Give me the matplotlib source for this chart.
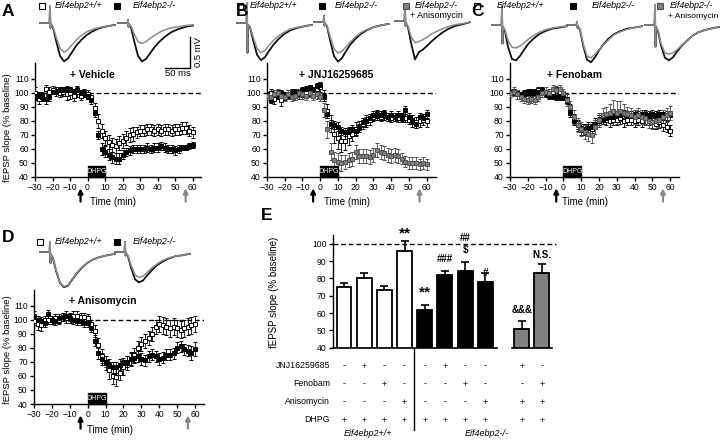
import matplotlib
matplotlib.use("Agg")
import matplotlib.pyplot as plt
from matplotlib.lines import Line2D
from matplotlib.patches import Rectangle
import matplotlib.transforms as mtransforms
from matplotlib import font_manager

plt.rcParams['font.family'] = ['Liberation Sans', 'DejaVu Sans']
plt.rcParams['axes.linewidth'] = 1.0
_names = {f.name for f in font_manager.fontManager.ttflist}
NARROW = 'Liberation Sans Narrow' if 'Liberation Sans Narrow' in _names else None
TICK_FS = 7 if NARROW else 6.2

# ---------------- data ----------------
TIME = [-30, -28, -26, -24, -22, -20, -18, -16, -14, -12, -10, -8, -6, -4, -2, 0,
        2, 4, 6, 8, 10, 12, 14, 16, 18, 20, 22, 24, 26, 28, 30, 32, 34, 36, 38, 40,
        42, 44, 46, 48, 50, 52, 54, 56, 58, 60]

# Panel A (+ Vehicle)
A_WT = [100, 96, 98, 103, 101, 102, 101, 100, 101, 99, 100, 98, 101, 98, 100, 99,
        97, 89, 80, 73, 68, 65, 63, 62, 64, 66, 68, 70, 71, 72, 73, 73, 74, 74, 73, 74,
        73, 74, 74, 73, 74, 74, 75, 75, 73, 72]
A_WT_ERR = [4, 4, 3, 3, 3, 3, 3, 3, 3, 4, 4, 4, 4, 3, 3, 3,
            3, 4, 5, 5, 5, 5, 5, 5, 5, 5, 5, 5, 5, 4, 4, 4, 4, 4, 4, 4,
            4, 4, 4, 4, 4, 4, 4, 4, 4, 4]
A_KO = [98, 98, 97, 96, 97, 101, 101, 102, 102, 103, 102, 101, 102, 100, 100, 98,
        95, 86, 70, 60, 58, 56, 54, 53, 53, 56, 58, 59, 60, 60, 60, 60, 61, 60, 61, 61,
        62, 61, 60, 60, 59, 60, 61, 61, 62, 63]
A_KO_ERR = [3, 3, 3, 4, 3, 2, 2, 2, 2, 2, 2, 2, 2, 2, 2, 2,
            3, 3, 3, 4, 4, 4, 4, 4, 4, 3, 3, 3, 3, 3, 3, 3, 3, 3, 3, 3,
            3, 3, 3, 3, 3, 3, 2, 2, 2, 2]

# Panel B (+ JNJ16259685)
B_WT = [98, 100, 96, 99, 95, 98, 99, 100, 98, 99, 100, 100, 101, 100, 103, 104,
        98, 87, 78, 71, 68, 66, 66, 69, 71, 74, 76, 78, 80, 81, 83, 84, 83, 84, 83, 82,
        83, 82, 83, 82, 81, 80, 79, 80, 81, 80]
B_WT_ERR = [3, 3, 4, 3, 4, 3, 3, 3, 3, 3, 3, 3, 3, 3, 3, 3,
            4, 5, 6, 7, 8, 8, 7, 6, 5, 5, 4, 4, 4, 4, 3, 3, 3, 3, 3, 3,
            3, 3, 3, 3, 3, 4, 4, 4, 4, 4]
B_KO = [99, 95, 99, 98, 100, 99, 98, 100, 101, 100, 102, 103, 104, 102, 105, 106,
        97, 85, 78, 77, 76, 73, 72, 73, 74, 73, 75, 79, 80, 82, 84, 85, 84, 85, 83, 84,
        83, 84, 82, 88, 83, 81, 78, 83, 82, 85]
B_KO_ERR = [2, 2, 2, 2, 2, 2, 2, 2, 2, 2, 2, 2, 2, 2, 2, 2,
            3, 3, 3, 3, 3, 3, 3, 3, 3, 3, 3, 3, 3, 3, 3, 3, 3, 3, 3, 3,
            3, 3, 3, 3, 3, 3, 3, 3, 3, 3]
B_AN = [98, 97, 99, 100, 98, 97, 99, 97, 98, 100, 99, 98, 100, 98, 99, 97,
        88, 74, 58, 52, 51, 50, 51, 52, 53, 58, 55, 55, 55, 54, 56, 59, 58, 57, 56, 55,
        56, 55, 53, 51, 50, 50, 50, 49, 50, 49]
B_AN_ERR = [3, 3, 3, 3, 3, 3, 3, 3, 3, 3, 3, 3, 3, 3, 3, 3,
            5, 6, 6, 6, 6, 6, 5, 5, 5, 5, 5, 5, 5, 5, 5, 5, 5, 5, 5, 5,
            5, 5, 4, 4, 4, 4, 4, 4, 4, 4]

# Panel C (+ Fenobam)
C_WT = [101, 100, 100, 98, 99, 100, 100, 101, 102, 101, 100, 99, 101, 102, 101, 99,
        96, 89, 82, 77, 74, 74, 75, 74, 78, 80, 82, 81, 80, 81, 81, 82, 80, 81, 81, 80,
        81, 80, 82, 81, 79, 78, 79, 77, 76, 73]
C_WT_ERR = [2, 2, 2, 2, 2, 2, 2, 2, 2, 2, 2, 2, 2, 2, 2, 2,
            3, 3, 3, 4, 4, 4, 4, 4, 4, 4, 4, 4, 4, 4, 4, 4, 4, 4, 4, 4,
            4, 4, 4, 4, 4, 4, 4, 4, 4, 4]
C_KO = [101, 101, 100, 99, 100, 101, 101, 100, 101, 102, 99, 98, 98, 97, 97, 97,
        94, 86, 80, 77, 75, 74, 75, 76, 78, 80, 81, 82, 83, 83, 84, 84, 85, 84, 84, 85,
        84, 85, 85, 84, 85, 84, 85, 85, 84, 84]
C_KO_ERR = [2, 2, 2, 2, 2, 2, 2, 2, 2, 2, 2, 2, 2, 2, 2, 2,
            2, 3, 3, 3, 3, 3, 3, 3, 3, 3, 3, 3, 3, 3, 3, 3, 3, 3, 3, 3,
            3, 3, 3, 3, 3, 3, 3, 3, 3, 3]
C_AN = [100, 101, 99, 97, 96, 95, 96, 95, 97, 100, 101, 100, 103, 102, 103, 100,
        95, 90, 83, 77, 74, 72, 71, 70, 76, 81, 84, 85, 86, 87, 86, 87, 86, 85, 84, 83,
        84, 83, 82, 80, 79, 80, 81, 83, 84, 86]
C_AN_ERR = [3, 3, 3, 3, 3, 3, 3, 3, 3, 3, 3, 3, 3, 3, 3, 3,
            4, 4, 5, 5, 5, 5, 5, 6, 5, 5, 5, 5, 6, 8, 8, 7, 6, 5, 5, 5,
            5, 5, 5, 5, 5, 5, 5, 5, 5, 5]

# Panel D (+ Anisomycin)
D_WT = [99, 97, 96, 100, 100, 100, 101, 100, 102, 101, 102, 103, 103, 102, 102, 101,
        97, 92, 82, 74, 69, 64, 60, 59, 62, 66, 69, 72, 75, 80, 83, 85, 87, 90, 95, 97,
        96, 95, 94, 95, 94, 93, 94, 95, 96, 97]
D_WT_ERR = [3, 4, 4, 3, 3, 3, 3, 3, 3, 3, 3, 3, 3, 3, 3, 3,
            3, 4, 5, 5, 5, 6, 6, 6, 5, 5, 5, 5, 5, 5, 5, 5, 5, 5, 5, 6,
            6, 6, 6, 6, 6, 6, 6, 6, 6, 6]
D_KO = [103, 100, 99, 98, 104, 100, 99, 101, 102, 103, 101, 100, 99, 99, 98, 98,
        94, 85, 76, 72, 70, 68, 66, 66, 68, 69, 70, 72, 73, 74, 72, 71, 74, 75, 74, 72,
        73, 75, 75, 76, 80, 81, 79, 78, 76, 79]
D_KO_ERR = [3, 3, 3, 3, 3, 3, 3, 3, 3, 3, 3, 3, 3, 3, 3, 3,
            3, 4, 4, 4, 4, 4, 4, 4, 4, 4, 4, 4, 4, 4, 4, 4, 4, 4, 4, 4,
            4, 4, 4, 4, 4, 4, 4, 4, 5, 5]

# Panel E (bar summary)
E_GROUPS = ['WT', 'WT', 'WT', 'WT', 'KO', 'KO', 'KO', 'KO', 'KOAN', 'KOAN']
E_VALUES = [75, 80, 73.5, 95.5, 62, 82, 84, 78, 51, 83]
E_ERR = [2.5, 3, 2, 6, 2.5, 2.5, 5.5, 5, 4.5, 5]
E_JNJ = ['-', '+', '-', '-', '-', '+', '-', '-', '+', '-']
E_FEN = ['-', '-', '+', '-', '-', '-', '+', '-', '-', '+']
E_ANI = ['-', '-', '-', '+', '-', '-', '-', '+', '+', '+']
E_DHPG = ['+', '+', '+', '+', '+', '+', '+', '+', '+', '+']
E_ROWS = ['JNJ16259685', 'Fenobam', 'Anisomycin', 'DHPG']
E_MARKS = [(3, '**', 105.6), (4, '**', 71.6), (5, '###', 91.2), (6, '##', 103.3),
           (6, '$', 96.4), (7, '#', 83.3), (8, '&&&', 61.7), (9, 'N.S.', 93.5)]

# Example fEPSP traces (ms, mV)
TRACE_MS = [0, 19, 20, 21, 22, 26, 32, 40, 48, 56, 64, 73, 83, 94, 106, 120, 136, 150]
TR_A1_K = [0, 0, 0.27, -0.08, -0.02, -0.07, -0.28, -0.53, -0.62, -0.57, -0.47, -0.36, -0.27, -0.19, -0.13, -0.08, -0.05, -0.03]
TR_A1_G = [0, 0, 0.27, -0.08, -0.02, -0.06, -0.22, -0.41, -0.47, -0.43, -0.35, -0.27, -0.20, -0.14, -0.10, -0.07, -0.05, -0.03]
TR_A2_K = [0, 0, 0.05, -0.06, -0.02, -0.07, -0.28, -0.53, -0.62, -0.58, -0.49, -0.39, -0.30, -0.22, -0.15, -0.10, -0.06, -0.04]
TR_A2_G = [0, 0, 0.05, -0.06, -0.02, -0.05, -0.17, -0.30, -0.33, -0.30, -0.25, -0.20, -0.15, -0.11, -0.08, -0.06, -0.04, -0.03]
TR_B1_K = [0, 0, 0.32, -0.48, -0.03, -0.07, -0.27, -0.51, -0.60, -0.55, -0.45, -0.35, -0.26, -0.18, -0.12, -0.08, -0.05, -0.03]
TR_B1_G = [0, 0, 0.32, -0.48, -0.03, -0.06, -0.22, -0.41, -0.48, -0.44, -0.36, -0.28, -0.21, -0.15, -0.10, -0.07, -0.05, -0.03]
TR_B2_K = [0, 0, 0.10, -0.06, -0.02, -0.07, -0.29, -0.55, -0.64, -0.58, -0.47, -0.36, -0.27, -0.19, -0.13, -0.08, -0.05, -0.03]
TR_B2_G = [0, 0, 0.10, -0.06, -0.02, -0.06, -0.23, -0.43, -0.50, -0.47, -0.40, -0.32, -0.24, -0.17, -0.12, -0.08, -0.05, -0.03]
TR_B3_K = [0, 0, 0.25, -0.08, -0.03, -0.10, -0.35, -0.62, -0.50, -0.46, -0.40, -0.33, -0.26, -0.19, -0.13, -0.08, -0.05, -0.02]
TR_B3_G = [0, 0, 0.25, -0.08, -0.03, -0.08, -0.25, -0.35, -0.33, -0.30, -0.26, -0.21, -0.17, -0.13, -0.09, -0.06, -0.04, -0.02]
TR_C1_K = [0, 0, 0.30, -0.30, -0.03, -0.10, -0.35, -0.55, -0.57, -0.50, -0.40, -0.30, -0.22, -0.15, -0.10, -0.06, -0.04, -0.02]
TR_C1_G = [0, 0, 0.30, -0.30, -0.03, -0.08, -0.25, -0.36, -0.37, -0.34, -0.29, -0.23, -0.17, -0.12, -0.08, -0.05, -0.03, -0.02]
TR_C2_K = [0, 0, 0.05, -0.05, -0.02, -0.08, -0.32, -0.56, -0.60, -0.52, -0.41, -0.31, -0.22, -0.15, -0.10, -0.06, -0.04, -0.02]
TR_C2_G = [0, 0, 0.05, -0.05, -0.02, -0.07, -0.29, -0.50, -0.53, -0.47, -0.40, -0.32, -0.24, -0.16, -0.11, -0.07, -0.04, -0.02]
TR_C3_K = [0, 0, 0.32, -0.35, -0.03, -0.10, -0.33, -0.53, -0.57, -0.52, -0.43, -0.34, -0.26, -0.18, -0.12, -0.08, -0.05, -0.03]
TR_C3_G = [0, 0, 0.32, -0.35, -0.03, -0.09, -0.30, -0.45, -0.47, -0.45, -0.40, -0.33, -0.26, -0.18, -0.12, -0.08, -0.05, -0.03]
TR_D1_K = [0, 0, 0.16, -0.18, -0.04, -0.10, -0.30, -0.50, -0.57, -0.54, -0.45, -0.35, -0.26, -0.18, -0.12, -0.08, -0.05, -0.03]
TR_D1_G = [0, 0, 0.16, -0.18, -0.04, -0.10, -0.29, -0.49, -0.56, -0.53, -0.44, -0.34, -0.25, -0.18, -0.12, -0.08, -0.05, -0.03]
TR_D2_K = [0, 0, 0.16, -0.06, -0.02, -0.07, -0.25, -0.44, -0.49, -0.46, -0.38, -0.30, -0.22, -0.16, -0.11, -0.07, -0.05, -0.03]
TR_D2_G = [0, 0, 0.16, -0.06, -0.02, -0.06, -0.21, -0.37, -0.41, -0.39, -0.33, -0.26, -0.20, -0.14, -0.10, -0.07, -0.05, -0.03]

# ---------------- layout helpers ----------------
W, H = 720, 441
fig = plt.figure(figsize=(W / 100, H / 100), dpi=100)
GRAY = '#808080'
GRAY_E = '#505050'
FS = 7


def rect(l, t, r, b):
    return [l / W, 1 - b / H, (r - l) / W, (b - t) / H]


def fx(x):
    return x / W


def fy(y):
    return 1 - y / H


def narrow_ticks(ax):
    ax.tick_params(direction='out', length=3, width=1, labelsize=TICK_FS, pad=1.5)
    if NARROW:
        for lab in ax.get_xticklabels() + ax.get_yticklabels():
            lab.set_family(NARROW)


def style_time_axes(ax, ytop):
    ax.set_xlim(-30, 65)
    ax.set_ylim(40, ytop)
    for s in ('top', 'right'):
        ax.spines[s].set_visible(False)
    ax.set_xticks([-30, -20, -10, 0, 10, 20, 30, 40, 50, 60])
    ax.set_yticks([40, 50, 60, 70, 80, 90, 100, 110])
    narrow_ticks(ax)
    ax.axhline(100, color='black', lw=1, ls=(0, (3.5, 2)), zorder=1)
    ax.add_patch(Rectangle((0, 40), 10, 8, color='black', zorder=5, clip_on=False))
    ax.text(5, 44, 'DHPG', color='white', fontsize=5, ha='center', va='center', zorder=6)
    tr = ax.get_xaxis_transform()
    ax.annotate('', xy=(-4, -0.075), xytext=(-4, -0.24), xycoords=tr, textcoords=tr,
                arrowprops=dict(arrowstyle='-|>', color='black', lw=1.6, mutation_scale=7))
    ax.annotate('', xy=(56, -0.075), xytext=(56, -0.24), xycoords=tr, textcoords=tr,
                arrowprops=dict(arrowstyle='-|>', color='#8a8a8a', lw=1.6, mutation_scale=7))


def series(ax, y, err, kind):
    if kind == 'wt':
        fc, ec = 'white', 'black'
    elif kind == 'ko':
        fc, ec = 'black', 'black'
    else:
        fc, ec = GRAY, GRAY_E
    ax.errorbar(TIME, y, yerr=err, fmt='s', ms=3.4, mfc=fc, mec=ec, mew=0.7,
                ecolor=ec, elinewidth=0.6, capsize=1.6, capthick=0.6, zorder=3)


# ---------------- time-course panels ----------------
axA = fig.add_axes(rect(35, 63, 201.4, 177))
style_time_axes(axA, 121.4)
series(axA, A_WT, A_WT_ERR, 'wt')
series(axA, A_KO, A_KO_ERR, 'ko')
axA.text(3, 113, '+ Vehicle', fontsize=7.5, fontweight='bold', ha='center', va='center')

axB = fig.add_axes(rect(267, 63, 435.5, 177))
style_time_axes(axB, 121.4)
series(axB, B_WT, B_WT_ERR, 'wt')
series(axB, B_KO, B_KO_ERR, 'ko')
series(axB, B_AN, B_AN_ERR, 'an')
axB.text(9, 113, '+ JNJ16259685', fontsize=7.5, fontweight='bold', ha='center', va='center')

axC = fig.add_axes(rect(510, 63, 679, 177))
style_time_axes(axC, 121.4)
series(axC, C_WT, C_WT_ERR, 'wt')
series(axC, C_KO, C_KO_ERR, 'ko')
series(axC, C_AN, C_AN_ERR, 'an')
axC.text(6.5, 113, '+ Fenobam', fontsize=7.5, fontweight='bold', ha='center', va='center')

axD = fig.add_axes(rect(34, 290, 204, 404))
style_time_axes(axD, 121.2)
series(axD, D_WT, D_WT_ERR, 'wt')
series(axD, D_KO, D_KO_ERR, 'ko')
axD.text(8.5, 113.5, '+ Anisomycin', fontsize=7.5, fontweight='bold', ha='center', va='center')

for (x, y) in [(113, 202), (347, 202), (585, 202), (110, 430)]:
    fig.text(fx(x), fy(y), 'Time (min)', fontsize=FS, ha='center', va='center')
for (x, y) in [(8, 128), (8, 350)]:
    fig.text(fx(x), fy(y), 'fEPSP slope (% baseline)', fontsize=6.8, rotation=90,
             ha='center', va='center')

# ---------------- bar panel E ----------------
axE = fig.add_axes(rect(332.7, 235, 556, 347.7))
xpos = [0, 1, 2, 3, 4, 5, 6, 7, 8.8, 9.8]
fills = {'WT': 'white', 'KO': 'black', 'KOAN': GRAY}
axE.bar(xpos, [v - 40 for v in E_VALUES], bottom=40, width=0.74,
        color=[fills[g] for g in E_GROUPS], edgecolor='black', linewidth=1.3, zorder=3)
axE.errorbar(xpos, E_VALUES, yerr=[[0] * len(E_ERR), E_ERR], fmt='none', ecolor='black',
             elinewidth=1.2, capsize=3, capthick=1.2, zorder=2)
axE.set_xlim(-0.56, 10.5)
axE.set_ylim(40, 105)
for s in ('top', 'right', 'bottom'):
    axE.spines[s].set_visible(False)
axE.set_xticks([])
axE.set_yticks([40, 50, 60, 70, 80, 90, 100])
narrow_ticks(axE)
axE.plot([-0.56, 10.5], [100, 100], color='black', lw=1, ls=(0, (3.5, 2)), clip_on=False, zorder=1)
axE.plot([-0.56, 7.57], [40, 40], color='black', lw=1.2, clip_on=False)
axE.plot([8.32, 10.3], [40, 40], color='black', lw=1.2, clip_on=False)
axE.plot([3.47, 3.47], [40, -7.5], color='black', lw=1, clip_on=False)
for (i, s, y) in E_MARKS:
    big = s == '**'
    axE.text(xpos[i], y, s, fontsize=11 if big else 7, fontweight='bold',
             ha='center', va='center', clip_on=False)
fig.text(fx(274), fy(292), 'fEPSP slope (% baseline)', fontsize=FS, rotation=90,
         ha='center', va='center')

btr = mtransforms.blended_transform_factory(axE.transData, fig.transFigure)
row_y = [366, 384, 402, 420]
for lab, signs, yy in zip(E_ROWS, [E_JNJ, E_FEN, E_ANI, E_DHPG], row_y):
    fig.text(fx(330), fy(yy), lab, fontsize=6.3, ha='right', va='center')
    for xp, s in zip(xpos, signs):
        axE.text(xp, fy(yy), s, transform=btr, fontsize=6.5, ha='center', va='center')
axE.text(1.2, fy(433), 'Eif4ebp2+/+', transform=btr, fontsize=6.5, style='italic',
         ha='center', va='center')
axE.text(7.05, fy(433), 'Eif4ebp2-/-', transform=btr, fontsize=6.5, style='italic',
         ha='center', va='center')

# ---------------- example traces ----------------
PX_MS = 0.5   # pixels per ms
PX_MV = 62.0  # pixels per mV
axT = fig.add_axes([0, 0, 1, 1])
axT.set_xlim(0, W / PX_MS)
axT.set_ylim(-H / PX_MV, 0)
axT.axis('off')
traces = [
    (40, 23, TR_A1_K, TR_A1_G), (118, 23, TR_A2_K, TR_A2_G),
    (237, 23, TR_B1_K, TR_B1_G), (314, 22, TR_B2_K, TR_B2_G), (395, 21, TR_B3_K, TR_B3_G),
    (492, 25, TR_C1_K, TR_C1_G), (567, 25, TR_C2_K, TR_C2_G), (645, 25, TR_C3_K, TR_C3_G),
    (40, 252, TR_D1_K, TR_D1_G), (115, 252, TR_D2_K, TR_D2_G),
]
for (x0, y0, k, g) in traces:
    xs = [x0 / PX_MS + t for t in TRACE_MS]
    axT.plot(xs, [v - y0 / PX_MV for v in k], color='#111111', lw=1.3)
    axT.plot(xs, [v - y0 / PX_MV for v in g], color='#8c8c8c', lw=1.1)
# scale bar: 0.5 mV, 50 ms
sbx, sby = 190 / PX_MS, -68 / PX_MV
axT.plot([sbx - 50, sbx, sbx], [sby, sby, sby + 0.5], color='black', lw=1)
fig.text(fx(198), fy(52), '0.5 mV', fontsize=6.8, rotation=90, ha='center', va='center')
fig.text(fx(178), fy(74), '50 ms', fontsize=6.8, ha='center', va='center')

# ---------------- legends ----------------
LEG_FS = 6.4


def legend_item(x, y, kind, text, x_text):
    if kind == 'wt':
        fc, ec = 'white', 'black'
    elif kind == 'ko':
        fc, ec = 'black', 'black'
    else:
        fc, ec = GRAY, GRAY_E
    fig.add_artist(Line2D([fx(x)], [fy(y)], marker='s', ms=4, mfc=fc, mec=ec, mew=0.8,
                          transform=fig.transFigure))
    fig.text(fx(x_text), fy(y), text, fontsize=LEG_FS, style='italic', ha='left', va='center')


legend_item(42, 6, 'wt', 'Eif4ebp2+/+', 55)
legend_item(117, 6, 'ko', 'Eif4ebp2-/-', 133)
legend_item(240, 6, 'wt', 'Eif4ebp2+/+', 250)
legend_item(322, 6, 'ko', 'Eif4ebp2-/-', 335)
legend_item(406, 6, 'an', 'Eif4ebp2-/-', 415)
fig.text(fx(410), fy(16), '+ Anisomycin', fontsize=LEG_FS, ha='left', va='center')
legend_item(477, 6, 'wt', 'Eif4ebp2+/+', 497)
legend_item(573, 6, 'ko', 'Eif4ebp2-/-', 592)
legend_item(660, 6, 'an', 'Eif4ebp2-/-', 670)
fig.text(fx(718), fy(16), '+ Anisomycin', fontsize=6.1, ha='right', va='center')
legend_item(40, 242, 'wt', 'Eif4ebp2+/+', 55)
legend_item(117, 242, 'ko', 'Eif4ebp2-/-', 133)

# panel letters
for (x, y, s) in [(2, 11, 'A'), (236, 11, 'B'), (471, 11, 'C'), (2, 237, 'D'), (261, 216, 'E')]:
    fig.text(fx(x), fy(y), s, fontsize=12.5, fontweight='bold', ha='left', va='center')

fig.savefig('out.png', dpi=100)
